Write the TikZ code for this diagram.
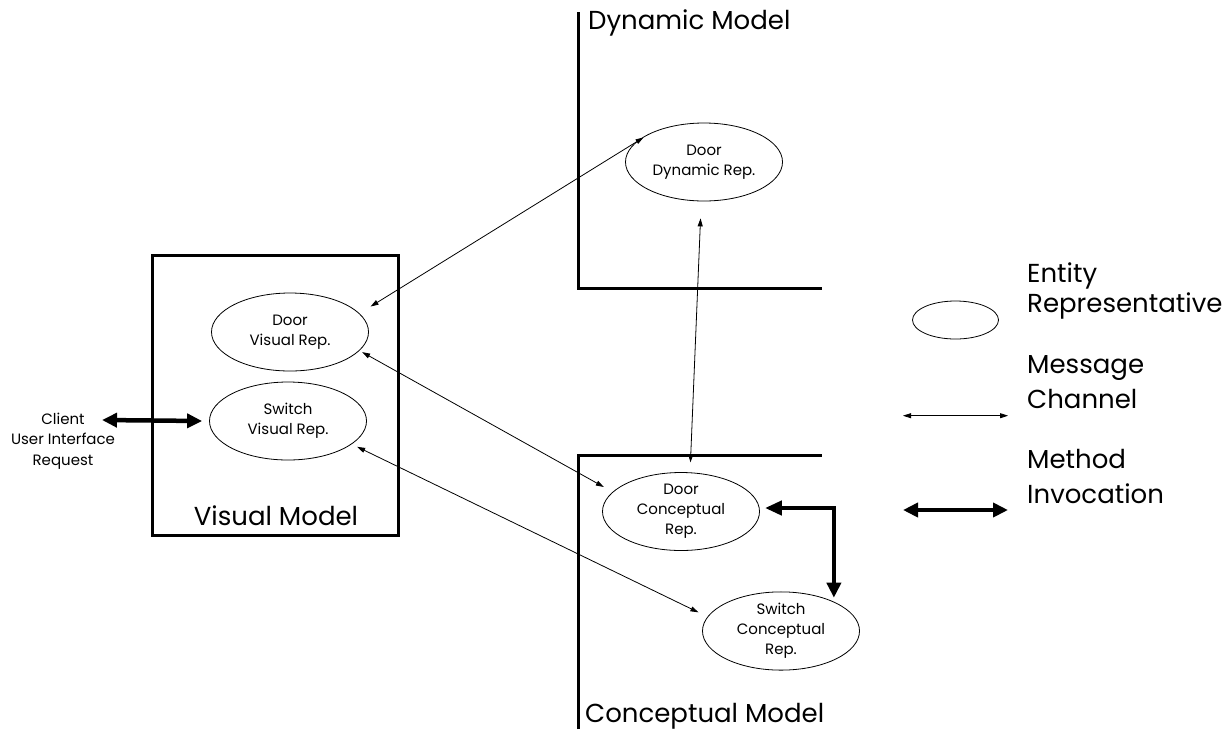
\documentclass[tikz,border=0pt]{standalone}
\usepackage{fontspec}
\setmainfont{Poppins}
\usetikzlibrary{shapes.geometric,arrows.meta}

\tikzset{
  rep/.style={draw, ellipse, line width=0.8pt, minimum width=157pt, minimum height=78pt,
    inner sep=0pt, align=center, font=\fontsize{15}{20}\selectfont},
  bigtext/.style={font=\fontsize{26}{33}\selectfont, inner sep=0pt},
  msg/.style={line width=0.8pt, {Triangle[length=8pt,width=5pt]}-{Triangle[length=8pt,width=5pt]}},
  invoke/.style={line width=4.5pt, {Triangle[length=15pt,width=14pt]}-{Triangle[length=15pt,width=14pt]}},
  modelline/.style={line width=3pt},
}

\begin{document}
\begin{tikzpicture}[x=1pt, y=-1pt]
\useasboundingbox (0,0) rectangle (1228,729);

% Visual model frame
\node[draw, modelline, minimum width=246pt, minimum height=280pt, inner sep=0pt]
  (vm) at (275,395) {};
\node[bigtext, anchor=base] (vmlabel) at (276,525) {Visual Model};

% Dynamic model corner
\draw[modelline] (578,12) -- (578,288) -- (822,288);
\node[bigtext, anchor=base west] (dmlabel) at (588,29) {Dynamic Model};

% Conceptual model corner
\draw[modelline] (578,729) -- (578,455) -- (822,455);
\node[bigtext, anchor=base west] (cmlabel) at (585,722) {Conceptual Model};

% Entity representatives
\node[rep] (dv) at (290,332) {Door\\Visual Rep.};
\node[rep] (sv) at (288,421) {Switch\\Visual Rep.};
\node[rep] (dd) at (704,162) {Door\\Dynamic Rep.};
\node[rep] (dc) at (681,511.5) {Door\\Conceptual\\Rep.};
\node[rep] (sc) at (781,631) {Switch\\Conceptual\\Rep.};

% Client request
\node[align=center, inner sep=0pt, font=\fontsize{15}{20.5}\selectfont] (client) at (63,441) {Client\\User Interface\\Request};
\coordinate (clientport) at (102,420);
\draw[invoke] (clientport) -- ([xshift=-7pt]sv.west);

% Message channels
\draw[msg, shorten <=13pt, shorten >=9pt] (dv.15) -- (dd.151.6);
\draw[msg, shorten <=17pt, shorten >=10pt] (dd.266) -- (dc.77);
\draw[msg, shorten <=3pt, shorten >=10pt] (dv.-15.5) -- (dc.164.6);
\draw[msg, shorten <=6pt, shorten >=10pt] (sv.-20.6) -- (sc.169.2);

% Method invocation between conceptual reps
\draw[invoke, {Triangle[length=17pt,width=14pt]}-{Triangle[length=15pt,width=14pt]}, shorten >=4pt]
  ([xshift=5pt,yshift=3.5pt]dc.east) -| (sc.29.3);

% Legend
\node[draw, ellipse, line width=0.8pt, minimum width=86pt, minimum height=38pt, inner sep=0pt]
  (lgell) at (955.5,320) {};
\node[bigtext, anchor=base west, align=left, font=\fontsize{26}{30}\selectfont] (lgent) at (1027,312) {Entity\\Representative};

\coordinate (msgA) at (903,415.7);
\coordinate (msgB) at (1008,415.7);
\draw[msg] (msgA) -- (msgB);
\node[bigtext, anchor=base west, align=left, font=\fontsize{26}{35}\selectfont] (lgmsg) at (1027,408) {Message\\Channel};

\coordinate (invA) at (903,510);
\coordinate (invB) at (1008,510);
\draw[invoke] (invA) -- (invB);
\node[bigtext, anchor=base west, align=left, font=\fontsize{26}{35}\selectfont] (lginv) at (1027,503) {Method\\Invocation};
\end{tikzpicture}
\end{document}
